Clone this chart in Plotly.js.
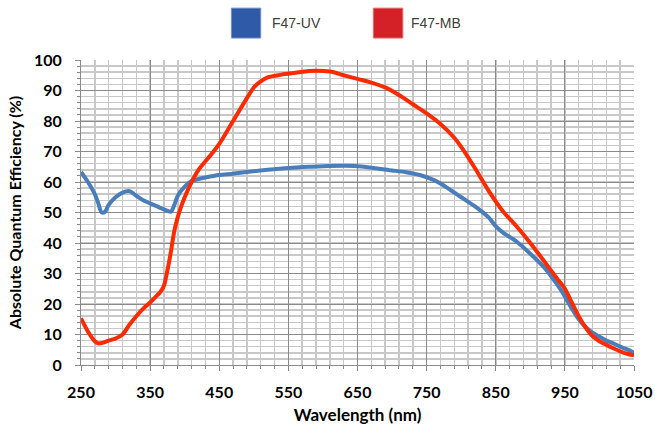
<!DOCTYPE html>
<html>
<head>
<meta charset="utf-8">
<script src="https://cdn.plot.ly/plotly-3.0.1.min.js"></script>
<style>html,body{margin:0;padding:0;background:#fff;}#chart{width:655px;height:433px;}</style>
</head>
<body>
<div id="chart"></div>
<script>
// Wavelength (nm) and efficiency (%)
const uvWavelength = [250,260,270,275,280,285,290,300,310,320,330,340,350,360,370,380,385,390,400,410,420,430,450,470,490,520,550,580,600,650,700,720,740,760,770,785,800,820,840,850,860,880,900,920,940,950,960,970,980,990,1000,1010,1020,1030,1040,1050];
const uvEfficiency = [63.3,60,56,53,50,50.3,52.5,55,56.5,57,55.5,54,53,52,51,50.3,52.5,55.5,58.5,60.3,61,61.5,62.3,62.7,63.3,64,64.6,65,65.2,65.2,63.8,63.2,62.3,60.7,59.5,57.3,55,52,48.3,45.5,43.5,40.5,36.5,32,26,22.5,18.5,15,12.5,10.6,9.3,8,7.1,6,5.1,4];

const mbWavelength = [250,260,270,275,280,290,300,310,320,330,340,350,360,365,370,375,380,385,390,395,400,410,420,440,450,470,490,500,510,520,540,560,580,610,630,650,670,690,710,730,750,770,790,800,820,840,860,880,900,920,940,950,960,970,980,990,1000,1010,1020,1030,1040,1050];
const mbEfficiency = [15.3,11,7.8,7.1,7.2,8,8.7,10,13.2,16,18.5,20.5,22.8,24,26,31,37,44,48.5,52,55,60,64,69.5,72.5,80,87.5,91,93,94.3,95.2,95.8,96.4,96.2,95,93.8,92.6,91,88.5,85.5,82.5,79,74.5,71.5,64.5,57,50.5,45.5,40,34,28,25,20.5,16,12.3,9.5,7.8,6.6,5.5,4.5,3.7,3.2];

const seriesNames = ["F47-UV", "F47-MB"];
const xTicks = [250,350,450,550,650,750,850,950,1050];
const yTicks = [0,10,20,30,40,50,60,70,80,90,100];

const font = "Lato, 'Open Sans', Arial, sans-serif";

const traces = [
  {x: uvWavelength, y: uvEfficiency, name: seriesNames[0], mode: "lines",
   line: {color: "#4a7ebb", width: 4, shape: "spline", smoothing: 0.8}, hoverinfo: "skip"},
  {x: mbWavelength, y: mbEfficiency, name: seriesNames[1], mode: "lines",
   line: {color: "#ff2a00", width: 4, shape: "spline", smoothing: 0.8}, hoverinfo: "skip"}
];

const layout = {
  width: 655, height: 433,
  margin: {l: 81, r: 21, t: 60, b: 68},
  paper_bgcolor: "#fff", plot_bgcolor: "#fff",
  showlegend: false,
  xaxis: {
    range: [250, 1050], tickvals: xTicks, ticktext: xTicks.map(String),
    showgrid: true, gridcolor: "#8a8a8a", gridwidth: 1,
    showline: true, linecolor: "#8a8a8a", linewidth: 1,
    ticks: "outside", ticklen: 5, tickcolor: "#8a8a8a", ticklabelstandoff: 8,
    minor: {dtick: 20, tick0: 250, showgrid: true, gridcolor: "#c8c8c8", gridwidth: 1.5, ticks: "outside", ticklen: 3, tickcolor: "#8a8a8a"},
    tickfont: {family: font, size: 16, color: "#000", weight: "bold"},
    title: {text: "<b>Wavelength (nm)</b>", font: {family: font, size: 17, color: "#000"}, standoff: 8},
    zeroline: false, fixedrange: true
  },
  yaxis: {
    range: [0, 100], tickvals: yTicks, ticktext: yTicks.map(String),
    showgrid: true, gridcolor: "#8a8a8a", gridwidth: 1,
    showline: true, linecolor: "#8a8a8a", linewidth: 1,
    ticks: "outside", ticklen: 5, tickcolor: "#8a8a8a", ticklabelstandoff: 10,
    minor: {dtick: 2, tick0: 0, showgrid: true, gridcolor: "#c8c8c8", gridwidth: 1.5, ticks: "outside", ticklen: 3, tickcolor: "#8a8a8a"},
    tickfont: {family: font, size: 16, color: "#000", weight: "bold"},
    title: {text: "<b>Absolute Quantum Efficiency (%)</b>", font: {family: font, size: 16, color: "#000"}, standoff: 8},
    zeroline: false, fixedrange: true
  },
  shapes: [
    {type: "rect", xref: "paper", yref: "paper", x0: 0.272, x1: 0.325, y0: 1.072, y1: 1.170, fillcolor: "#2e5aa8", line: {color: "#6f8fc8", width: 1}},
    {type: "rect", xref: "paper", yref: "paper", x0: 0.5286, x1: 0.582, y0: 1.072, y1: 1.170, fillcolor: "#d42027", line: {color: "#e07070", width: 1}}
  ],
  annotations: [
    {xref: "paper", yref: "paper", x: 0.3415, y: 1.121, xanchor: "left", yanchor: "middle", showarrow: false, text: seriesNames[0], font: {family: "'Liberation Sans', Arial, sans-serif", size: 14, color: "#404040"}},
    {xref: "paper", yref: "paper", x: 0.593, y: 1.121, xanchor: "left", yanchor: "middle", showarrow: false, text: seriesNames[1], font: {family: "'Liberation Sans', Arial, sans-serif", size: 14, color: "#404040"}}
  ]
};

Plotly.newPlot("chart", traces, layout, {displayModeBar: false, staticPlot: true});
</script>
</body>
</html>
